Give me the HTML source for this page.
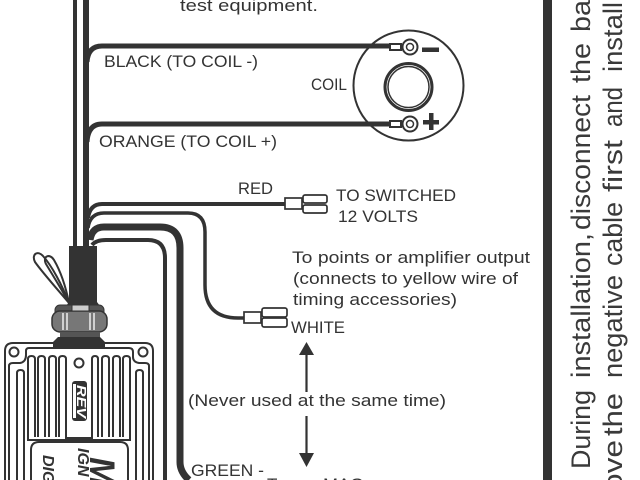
<!DOCTYPE html>
<html><head><meta charset="utf-8"><style>
html,body{margin:0;padding:0;background:#fff;overflow:hidden;width:640px;height:480px}
svg{display:block}
text{font-family:"Liberation Sans",sans-serif;fill:#333;font-size:17px}
.r{font-size:27px;fill:#3a3a3a}
</style></head><body>
<svg width="640" height="480" viewBox="0 0 640 480" xmlns="http://www.w3.org/2000/svg">
<rect width="640" height="480" fill="#fff"/>
<!-- main vertical wires -->
<g fill="none" stroke="#333" stroke-linecap="butt">
<path d="M75 0V248" stroke-width="4"/>
<path d="M86 0V248" stroke-width="6"/>
<path d="M87 62Q88 46 102 46H400" stroke-width="5"/>
<path d="M87 142Q88 124 102 124H400" stroke-width="5"/>
<path d="M88 218Q90 204 102 204H285" stroke-width="4"/>
<path d="M88 228Q90 213 104 213H188Q205 213 205 232V285Q205 318 238 318H246" stroke-width="3.5"/>
<path d="M90 240Q92 227 104 227H160Q180 227 180 248V462Q180 472 189 480" stroke-width="7"/>
<path d="M92 245Q96 240 106 240H148Q165 240 165 258V480" stroke-width="4"/>
</g>
<!-- sleeve -->
<path d="M69 246H97V302L100 306H66L69 302Z" fill="#333"/>
<!-- whisps -->
<g fill="none" stroke="#333" stroke-width="2">
<path d="M69 303C58 290 42 272 35 262C31 254 38 250 43 256C52 266 62 285 69 303Z"/>
<path d="M69 303C62 290 52 274 46 264C42 256 50 253 54 260C61 272 66 288 69 303Z"/>
</g>
<!-- grommet -->
<rect x="55" y="305" width="49" height="14" rx="5" fill="#555" stroke="#333"/>
<rect x="52" y="311" width="55" height="21" rx="8" fill="#777" stroke="#333" stroke-width="1.5"/>
<rect x="72" y="305" width="17" height="6" fill="#ccc" stroke="#333"/>
<g stroke="#eee" stroke-width="1.5"><path d="M63 313V330M67 313V330M90 313V330M94 313V330"/></g>
<rect x="60" y="332" width="40" height="6" fill="#555"/>
<path d="M58 337H100L105 342V348H53V342Z" fill="#333"/>
<!-- module -->
<g fill="none" stroke="#333" stroke-width="2">
<path d="M5 480V351Q5 343 13 343H53M105 343H145Q153 343 153 351V480"/>
<path d="M9 480V366Q9 363 13 363H20Q26 362 26 355V351Q26 348 29 348H129Q133 348 133 352V357Q133 362 139 363H145Q149 363 149 366V480"/>
<circle cx="14" cy="352" r="4.5"/><circle cx="143" cy="352" r="4.5"/>
<circle cx="79" cy="363" r="4.5"/>
<path d="M17 480V373Q17 370 20.500 370Q24 370 24 373V480"/>
<path d="M136 480V373Q136 370 139.500 370Q143 370 143 373V480"/>
<path d="M28 437V359Q28 356 31.500 356Q35 356 35 359V437"/>
<path d="M38 437V359Q38 356 41.500 356Q45 356 45 359V437"/>
<path d="M49 437V359Q49 356 52.500 356Q56 356 56 359V437"/>
<path d="M59 437V359Q59 356 62.500 356Q66 356 66 359V438H92V359Q92 356 95 356Q98 356 98 359V437"/>
<path d="M102 437V359Q102 356 105.500 356Q109 356 109 359V437"/>
<path d="M113 437V359Q113 356 116.500 356Q120 356 120 359V437"/>
<path d="M123 437V359Q123 356 126.500 356Q130 356 130 359V437"/>
<path d="M28 437V440H130V437"/>
</g>
<rect x="31" y="441" width="97" height="39" fill="#fff"/>
<path d="M31 480V450Q31 442 39 442H120Q128 442 128 450V480" fill="none" stroke="#333" stroke-width="2"/>
<rect x="72" y="381" width="15" height="40" rx="3" fill="#333"/>
<rect x="73" y="384" width="3" height="34" fill="#fff"/>
<text transform="translate(77,385) rotate(90)" font-weight="bold" font-style="italic" style="fill:#fff;font-size:13px" textLength="33" lengthAdjust="spacingAndGlyphs">REV</text>
<text transform="translate(90,457) rotate(90)" font-weight="bold" font-style="italic" style="font-size:35px">M</text>
<text transform="translate(78,448) rotate(90)" font-weight="bold" font-style="italic" style="font-size:16px">IGN</text>
<text transform="translate(43,455) rotate(90)" font-weight="bold" font-style="italic" style="font-size:16px">DIG</text>
<!-- coil -->
<circle cx="408.500" cy="85.500" r="55" fill="none" stroke="#333" stroke-width="2"/>
<path d="M353 46H392M353 124H392" stroke="#333" stroke-width="5"/>
<circle cx="408.500" cy="87" r="23.500" fill="none" stroke="#333" stroke-width="3"/>
<circle cx="408.500" cy="87" r="20.500" fill="none" stroke="#333" stroke-width="1.500"/>
<g fill="#fff" stroke="#333" stroke-width="2">
<rect x="390" y="44" width="11" height="6"/><rect x="390" y="121" width="11" height="6"/>
<circle cx="410" cy="47" r="7.500"/><circle cx="410" cy="124" r="7.500"/>
<circle cx="410" cy="47" r="3.500" stroke-width="1.500"/><circle cx="410" cy="124" r="3.500" stroke-width="1.500"/>
</g>
<rect x="422" y="47.500" width="17" height="4.500" fill="#333"/>
<rect x="423" y="120" width="16" height="4.500" fill="#333"/>
<rect x="429" y="113" width="4.500" height="17" fill="#333"/>
<!-- connectors -->
<g fill="#fff" stroke="#333" stroke-width="1.700">
<rect x="285" y="198" width="17" height="11"/>
<rect x="303" y="195" width="24" height="8" rx="2"/>
<rect x="303" y="205" width="24" height="8" rx="2"/>
<rect x="244" y="312" width="17" height="11"/>
<rect x="262" y="308" width="25" height="9" rx="2"/>
<rect x="262" y="318" width="25" height="9" rx="2"/>
</g>
<!-- arrows -->
<path d="M306.500 352V392M306.500 416V455" stroke="#333" stroke-width="2.200"/>
<path d="M306.500 342L314 355H299Z" fill="#333"/>
<path d="M306.500 467L314 453H299Z" fill="#333"/>
<!-- right bar -->
<rect x="543" y="0" width="9" height="480" fill="#333"/>
<!-- labels -->
<text x="180" y="11" textLength="138" lengthAdjust="spacingAndGlyphs">test equipment.</text>
<text x="104" y="67" textLength="154" lengthAdjust="spacingAndGlyphs">BLACK (TO COIL -)</text>
<text x="311" y="90" textLength="36" lengthAdjust="spacingAndGlyphs">COIL</text>
<text x="99" y="147" textLength="178" lengthAdjust="spacingAndGlyphs">ORANGE (TO COIL +)</text>
<text x="238" y="194" textLength="35" lengthAdjust="spacingAndGlyphs">RED</text>
<text x="336" y="201" textLength="120" lengthAdjust="spacingAndGlyphs">TO SWITCHED</text>
<text x="338" y="222" textLength="80" lengthAdjust="spacingAndGlyphs">12 VOLTS</text>
<text x="292" y="263" textLength="238" lengthAdjust="spacingAndGlyphs">To points or amplifier output</text>
<text x="293" y="284" textLength="225" lengthAdjust="spacingAndGlyphs">(connects to yellow wire of</text>
<text x="293" y="305" textLength="164" lengthAdjust="spacingAndGlyphs">timing accessories)</text>
<text x="291" y="333" textLength="54" lengthAdjust="spacingAndGlyphs">WHITE</text>
<text x="188" y="406" textLength="258" lengthAdjust="spacingAndGlyphs">(Never used at the same time)</text>
<text x="191" y="476" textLength="73" lengthAdjust="spacingAndGlyphs">GREEN -</text>
<text x="267" y="490">T</text>
<text x="323" y="490" textLength="41" lengthAdjust="spacingAndGlyphs">MAG</text>
<!-- rotated notes, aligned word by word -->
<g class="r">
<text class="r" transform="translate(590,469) rotate(-90)" textLength="79" lengthAdjust="spacingAndGlyphs">During</text>
<text class="r" transform="translate(590,378) rotate(-90)" textLength="145" lengthAdjust="spacingAndGlyphs">installation,</text>
<text class="r" transform="translate(590,230) rotate(-90)" textLength="135" lengthAdjust="spacingAndGlyphs">disconnect</text>
<text class="r" transform="translate(590,83) rotate(-90)" textLength="40" lengthAdjust="spacingAndGlyphs">the</text>
<text class="r" transform="translate(590,32) rotate(-90)" textLength="40" lengthAdjust="spacingAndGlyphs">bat</text>
<text class="r" transform="translate(622,491) rotate(-90)" textLength="51" lengthAdjust="spacingAndGlyphs">ove</text>
<text class="r" transform="translate(622,436) rotate(-90)" textLength="43" lengthAdjust="spacingAndGlyphs">the</text>
<text class="r" transform="translate(622,378) rotate(-90)" textLength="103" lengthAdjust="spacingAndGlyphs">negative</text>
<text class="r" transform="translate(622,266) rotate(-90)" textLength="64" lengthAdjust="spacingAndGlyphs">cable</text>
<text class="r" transform="translate(622,192) rotate(-90)" textLength="52" lengthAdjust="spacingAndGlyphs">first</text>
<text class="r" transform="translate(622,127) rotate(-90)" textLength="40" lengthAdjust="spacingAndGlyphs">and</text>
<text class="r" transform="translate(622,72) rotate(-90)" textLength="70" lengthAdjust="spacingAndGlyphs">install</text>
</g>
</svg>
</body></html>
